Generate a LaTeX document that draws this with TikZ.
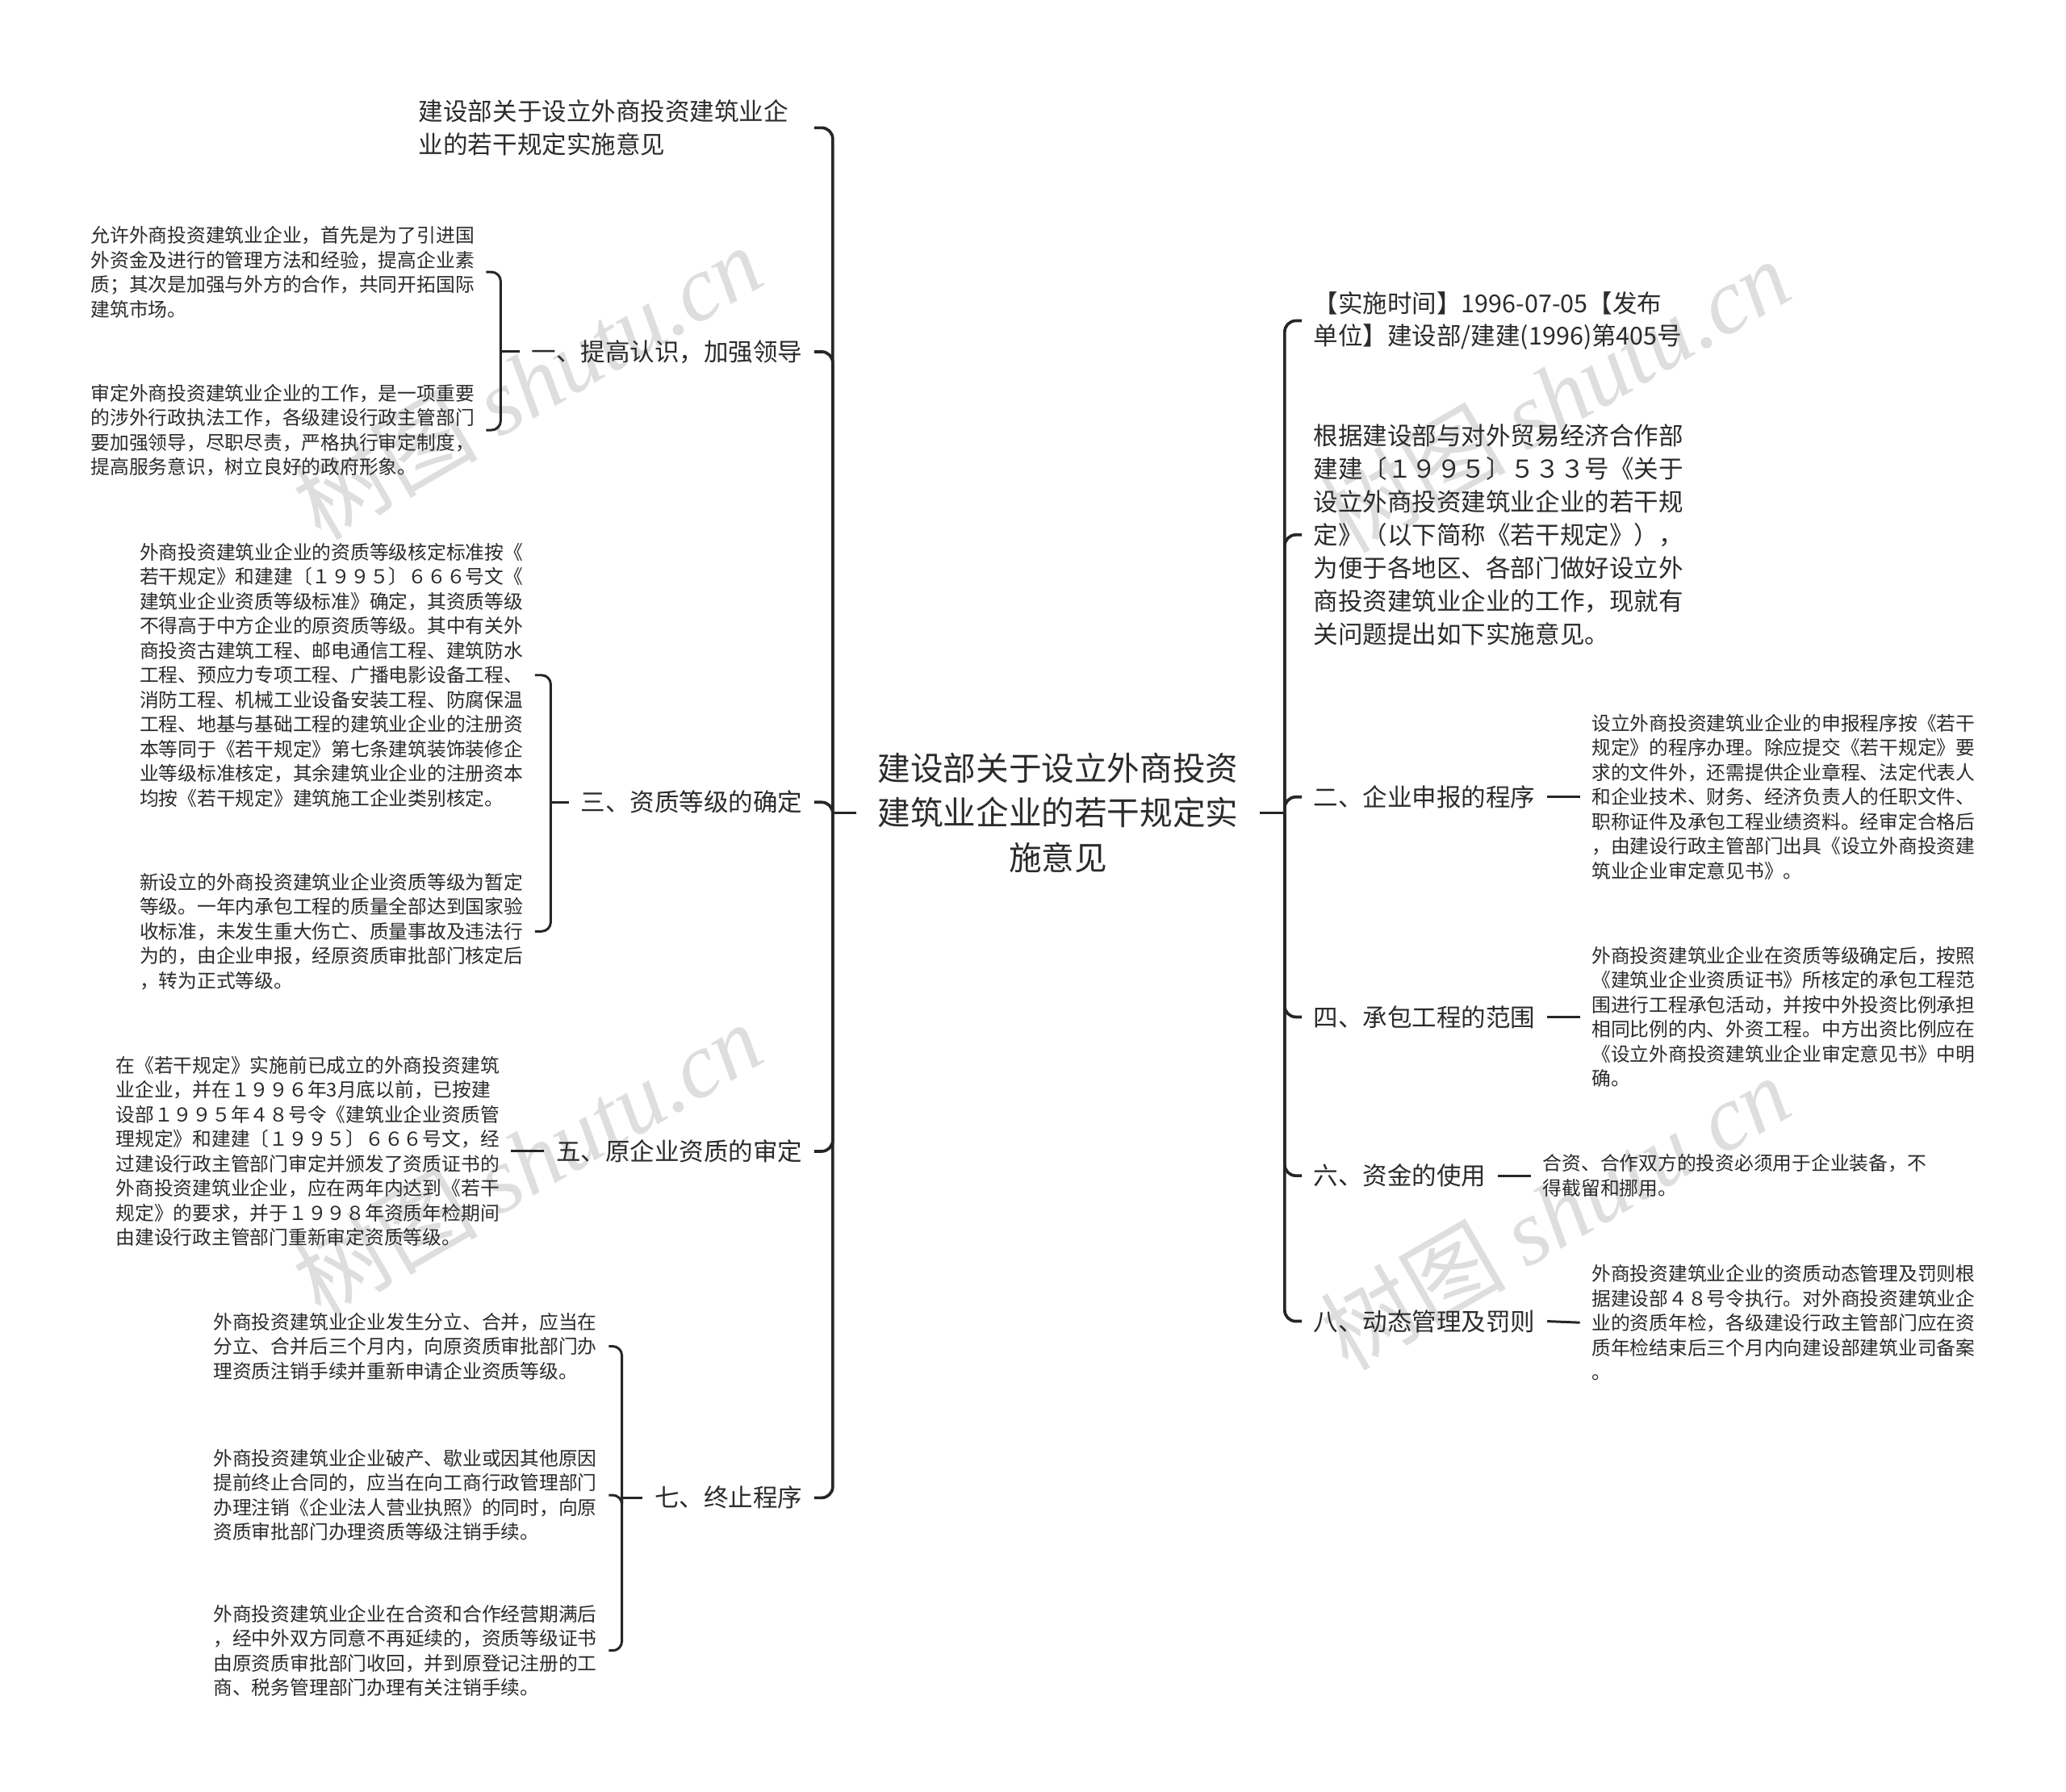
\documentclass[tikz,border=0pt]{standalone}
\usepackage{fontspec}
\setmainfont{Noto Sans CJK SC}
\newfontfamily\wmlatin{Liberation Serif}
\definecolor{txt}{HTML}{2B2B2B}
\definecolor{ln}{HTML}{262626}
\definecolor{wm}{HTML}{C8C8C8}
\begin{document}
\begin{tikzpicture}[x=0.25mm,y=-0.25mm,
  every node/.style={inner sep=0pt,outer sep=0pt,text=txt},
  rootn/.style={font=\fontsize{17.7}{24.2}\selectfont,align=center,inner xsep=11.4pt},
  lvone/.style={font=\fontsize{13.3}{17.8}\selectfont,align=left,inner xsep=6.4pt},
  lvtwo/.style={font=\fontsize{10.35}{13.3}\selectfont,align=left,inner xsep=6.4pt},
  trunk/.style={draw=ln,line width=1.6pt,rounded corners=6pt},
  twig/.style={draw=ln,line width=1.3pt,rounded corners=5pt},
  wmark/.style={text=wm,opacity=0.6,rotate=30,font=\fontsize{50}{50}\selectfont}]
\useasboundingbox[fill=white] (0,0) rectangle (1568,1360);

% watermarks
\node[wmark] at (400,290) {树图 {\wmlatin\itshape shutu.cn}};
\node[wmark] at (400,880) {树图 {\wmlatin\itshape shutu.cn}};
\node[wmark] at (1180,300) {树图 {\wmlatin\itshape shutu.cn}};
\node[wmark] at (1180,920) {树图 {\wmlatin\itshape shutu.cn}};

% root
\node[rootn] (root) at (803,617) {建设部关于设立外商投资\\建筑业企业的若干规定实\\施意见};
\coordinate (JL) at (632,617);
\coordinate (JR) at (975,617);

% left level one
\node[lvone,anchor=east,inner xsep=14pt] (T0) at (618,97) {建设部关于设立外商投资建筑业企\\业的若干规定实施意见};
\node[lvone,anchor=east] (L1) at (618,267) {一、提高认识，加强领导};
\node[lvone,anchor=east] (L3) at (618,609) {三、资质等级的确定};
\node[lvone,anchor=east] (L5) at (618,874) {五、原企业资质的审定};
\node[lvone,anchor=east] (L7) at (618,1137) {七、终止程序};

% right level one
\node[lvone,anchor=west] (R0) at (988,243.5) {【实施时间】1996-07-05【发布\\单位】建设部/建建(1996)第405号};
\node[lvone,anchor=west] (R1) at (988,406) {根据建设部与对外贸易经济合作部\\建建〔１９９５〕５３３号《关于\\设立外商投资建筑业企业的若干规\\定》（以下简称《若干规定》），\\为便于各地区、各部门做好设立外\\商投资建筑业企业的工作，现就有\\关问题提出如下实施意见。};
\node[lvone,anchor=west] (R2) at (988,605) {二、企业申报的程序};
\node[lvone,anchor=west] (R4) at (988,772) {四、承包工程的范围};
\node[lvone,anchor=west] (R6) at (988,892.5) {六、资金的使用};
\node[lvone,anchor=west] (R8) at (988,1003) {八、动态管理及罚则};

% left level two
\node[lvtwo,anchor=east] (C1a) at (369,206.5) {允许外商投资建筑业企业，首先是为了引进国\\外资金及进行的管理方法和经验，提高企业素\\质；其次是加强与外方的合作，共同开拓国际\\建筑市场。};
\node[lvtwo,anchor=east] (C1b) at (369,326.5) {审定外商投资建筑业企业的工作，是一项重要\\的涉外行政执法工作，各级建设行政主管部门\\要加强领导，尽职尽责，严格执行审定制度，\\提高服务意识，树立良好的政府形象。};
\coordinate (J1) at (380,267);

\node[lvtwo,anchor=east] (C3a) at (406,512.5) {外商投资建筑业企业的资质等级核定标准按《\\若干规定》和建建〔１９９５〕６６６号文《\\建筑业企业资质等级标准》确定，其资质等级\\不得高于中方企业的原资质等级。其中有关外\\商投资古建筑工程、邮电通信工程、建筑防水\\工程、预应力专项工程、广播电影设备工程、\\消防工程、机械工业设备安装工程、防腐保温\\工程、地基与基础工程的建筑业企业的注册资\\本等同于《若干规定》第七条建筑装饰装修企\\业等级标准核定，其余建筑业企业的注册资本\\均按《若干规定》建筑施工企业类别核定。};
\node[lvtwo,anchor=east] (C3b) at (406,707) {新设立的外商投资建筑业企业资质等级为暂定\\等级。一年内承包工程的质量全部达到国家验\\收标准，未发生重大伤亡、质量事故及违法行\\为的，由企业申报，经原资质审批部门核定后\\，转为正式等级。};
\coordinate (J3) at (418,609);

\node[lvtwo,anchor=east] (C5) at (388,874) {在《若干规定》实施前已成立的外商投资建筑\\业企业，并在１９９６年3月底以前，已按建\\设部１９９５年４８号令《建筑业企业资质管\\理规定》和建建〔１９９５〕６６６号文，经\\过建设行政主管部门审定并颁发了资质证书的\\外商投资建筑业企业，应在两年内达到《若干\\规定》的要求，并于１９９８年资质年检期间\\由建设行政主管部门重新审定资质等级。};

\node[lvtwo,anchor=east] (C7a) at (462,1022) {外商投资建筑业企业发生分立、合并，应当在\\分立、合并后三个月内，向原资质审批部门办\\理资质注销手续并重新申请企业资质等级。};
\node[lvtwo,anchor=east] (C7b) at (462,1135) {外商投资建筑业企业破产、歇业或因其他原因\\提前终止合同的，应当在向工商行政管理部门\\办理注销《企业法人营业执照》的同时，向原\\资质审批部门办理资质等级注销手续。};
\node[lvtwo,anchor=east] (C7c) at (462,1253) {外商投资建筑业企业在合资和合作经营期满后\\，经中外双方同意不再延续的，资质等级证书\\由原资质审批部门收回，并到原登记注册的工\\商、税务管理部门办理有关注销手续。};
\coordinate (J7) at (472,1137);

% right level two
\node[lvtwo,anchor=west] (C2) at (1199,605) {设立外商投资建筑业企业的申报程序按《若干\\规定》的程序办理。除应提交《若干规定》要\\求的文件外，还需提供企业章程、法定代表人\\和企业技术、财务、经济负责人的任职文件、\\职称证件及承包工程业绩资料。经审定合格后\\，由建设行政主管部门出具《设立外商投资建\\筑业企业审定意见书》。};
\node[lvtwo,anchor=west] (C4) at (1199,772) {外商投资建筑业企业在资质等级确定后，按照\\《建筑业企业资质证书》所核定的承包工程范\\围进行工程承包活动，并按中外投资比例承担\\相同比例的内、外资工程。中方出资比例应在\\《设立外商投资建筑业企业审定意见书》中明\\确。};
\node[lvtwo,anchor=west] (C6) at (1162,892.5) {合资、合作双方的投资必须用于企业装备，不\\得截留和挪用。};
\node[lvtwo,anchor=west] (C8) at (1199,1004) {外商投资建筑业企业的资质动态管理及罚则根\\据建设部４８号令执行。对外商投资建筑业企\\业的资质年检，各级建设行政主管部门应在资\\质年检结束后三个月内向建设部建筑业司备案\\。};

% trunk connectors
\draw[trunk] (root.west) -- (JL);
\draw[trunk] (root.east) -- (JR);
\foreach \n in {T0,L1,L3,L5,L7} \draw[trunk] (JL) |- (\n.east);
\foreach \n in {R0,R1,R2,R4,R6,R8} \draw[trunk] (JR) |- (\n.west);

% level two connectors
\draw[twig] (L1.west) -- (J1);
\draw[twig] (J1) |- (C1a.east);
\draw[twig] (J1) |- (C1b.east);
\draw[twig] (L3.west) -- (J3);
\draw[twig] (J3) |- (C3a.east);
\draw[twig] (J3) |- (C3b.east);
\draw[twig] (L5.west) -- (C5.east);
\draw[twig] (L7.west) -- (J7);
\draw[twig] (J7) |- (C7a.east);
\draw[twig] (J7) |- (C7b.east);
\draw[twig] (J7) |- (C7c.east);
\draw[twig] (R2.east) -- (C2.west);
\draw[twig] (R4.east) -- (C4.west);
\draw[twig] (R6.east) -- (C6.west);
\draw[twig] (R8.east) -- (C8.west);
\end{tikzpicture}
\end{document}
